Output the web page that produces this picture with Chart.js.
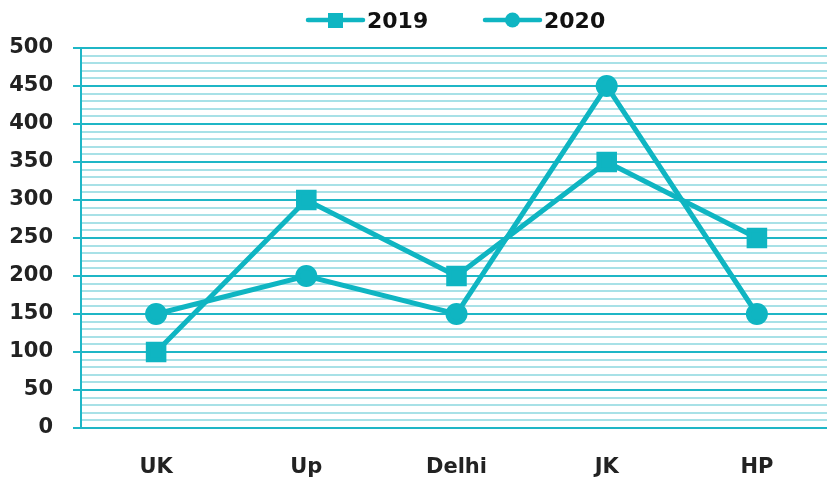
<!DOCTYPE html>
<html>
<head>
<meta charset="utf-8">
<script src="https://cdn.jsdelivr.net/npm/chart.js@4/dist/chart.umd.min.js"></script>
<style>
html,body{margin:0;padding:0;background:#fff;overflow:hidden;}
#wrap{width:827px;height:481px;overflow:hidden;position:relative;}
#box{width:848px;height:481px;position:absolute;left:0;top:0;}
</style>
</head>
<body>
<div id="wrap"><div id="box"><canvas id="c" width="848" height="481"></canvas></div></div>
<script>
const categories = ['UK', 'Up', 'Delhi', 'JK', 'HP'];
const seriesNames = ['2019', '2020'];
const values2019 = [100, 300, 200, 350, 250];
const values2020 = [150, 200, 150, 450, 150];
const yMin = 0, yMax = 500, yMajorStep = 50, yMinorStep = 10;

const LINE = '#0fb5c2';
const MAJOR = '#1fb6c6';
const MINOR = '#a8e1e7';
const FONT = "'DejaVu Sans', sans-serif";

const legendPlugin = {
  id: 'customLegend',
  afterDraw(chart) {
    const ctx = chart.ctx;
    const items = [
      {x: 308, label: chart.data.datasets[0].label, style: 'rect'},
      {x: 485, label: chart.data.datasets[1].label, style: 'circle'}
    ];
    const y = 20;
    ctx.save();
    items.forEach(it => {
      ctx.strokeStyle = LINE; ctx.lineWidth = 4.5; ctx.lineCap = 'round';
      ctx.beginPath(); ctx.moveTo(it.x, y); ctx.lineTo(it.x + 55, y); ctx.stroke();
      ctx.fillStyle = LINE;
      if (it.style === 'rect') { ctx.fillRect(it.x + 20, y - 7, 15, 15); }
      else { ctx.beginPath(); ctx.arc(it.x + 27.5, y, 7.5, 0, Math.PI * 2); ctx.fill(); }
      ctx.fillStyle = '#111';
      ctx.font = 'bold 22px ' + FONT;
      ctx.textBaseline = 'middle'; ctx.textAlign = 'left';
      ctx.fillText(it.label, it.x + 59, y + 2);
    });
    ctx.restore();
  }
};

new Chart(document.getElementById('c'), {
  type: 'line',
  data: {
    labels: categories,
    datasets: [
      {label: seriesNames[0], data: values2019, borderColor: LINE, backgroundColor: LINE,
       borderWidth: 5, pointStyle: 'rect', pointRadius: 11, pointHoverRadius: 11, tension: 0},
      {label: seriesNames[1], data: values2020, borderColor: LINE, backgroundColor: LINE,
       borderWidth: 5, pointStyle: 'circle', pointRadius: 8.5, pointHoverRadius: 8.5, tension: 0}
    ]
  },
  options: {
    responsive: false,
    animation: false,
    devicePixelRatio: 1,
    layout: {padding: {top: 48, right: 4, bottom: 0, left: 0}},
    plugins: {legend: {display: false}, tooltip: {enabled: false}},
    scales: {
      x: {
        offset: true,
        grid: {display: false, drawTicks: false},
        border: {display: true, color: MAJOR, width: 2},
        ticks: {padding: 27, color: '#222', font: {family: FONT, size: 21, weight: 'bold'}},
        afterFit(s) { s.height = 53; }
      },
      y: {
        min: yMin, max: yMax,
        ticks: {
          stepSize: yMinorStep, autoSkip: false, padding: 20, color: '#222',
          font: {family: FONT, size: 21, weight: 'bold'},
          callback: v => (v % yMajorStep === 0 ? String(v) : '')
        },
        grid: {
          tickLength: 8,
          color: c => (c.tick && c.tick.value % yMajorStep === 0 ? MAJOR : MINOR),
          tickColor: c => (c.tick && c.tick.value % yMajorStep === 0 ? MAJOR : 'rgba(0,0,0,0)'),
          lineWidth: 2, tickWidth: 2
        },
        border: {display: true, color: MAJOR, width: 2},
        afterFit(s) { s.width = 81; }
      }
    }
  },
  plugins: [legendPlugin]
});
</script>
</body>
</html>
